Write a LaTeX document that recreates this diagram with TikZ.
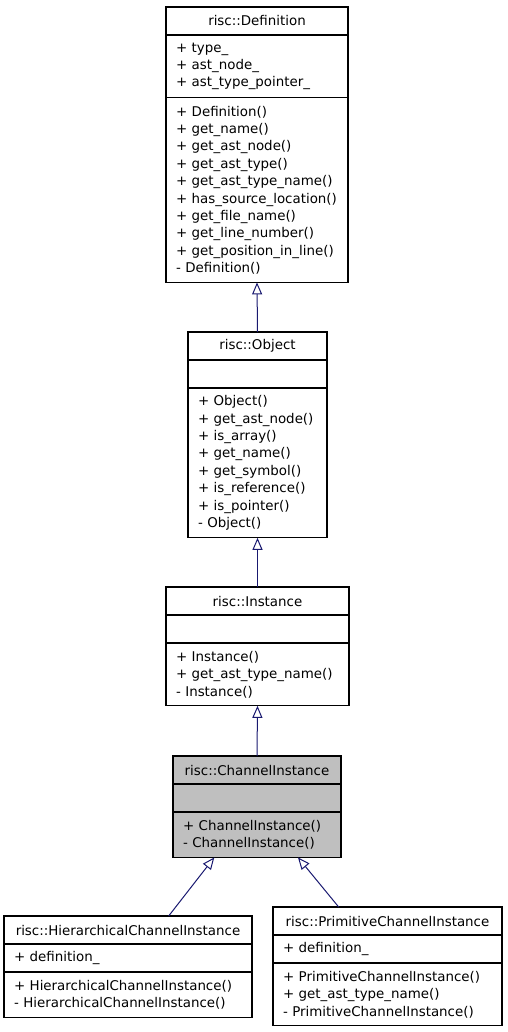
\documentclass[tikz,border=0pt]{standalone}
\usepackage{fontspec}
\setmainfont{DejaVu Sans}
\usetikzlibrary{positioning,arrows.meta}
\definecolor{edgeblue}{RGB}{25,25,112}
\definecolor{focusgray}{RGB}{191,191,191}
\tikzset{
    classpart/.style = {
        draw,
        shape=rectangle,
        anchor=north,
        inner xsep=10pt,
        inner ysep=0pt,
        outer sep=0pt,
        line width=1.1pt,
        fill=white,
        align=left,
        font=\fontsize{13.4}{17.4}\selectfont
    },
    classhead/.style = {
        classpart,
        align=center,
        minimum height=28pt
    },
    inherit/.style = {
        draw,
        color=edgeblue,
        line width=1pt,
        -{Triangle[open,length=12pt,width=10pt]}
    },
}

\begin{document}
\begin{tikzpicture}[x=1pt,y=-1pt]
    \useasboundingbox (0,0) rectangle (507,1032);

    % risc::Definition
    \node[classhead, text width=162pt] (defh) at (257,7) {risc::Definition};
    \node[classpart, text width=162pt, minimum height=62.8pt, below=0pt of defh] (defa) {+ type\_\\+ ast\_node\_\\+ ast\_type\_pointer\_};
    \node[classpart, text width=162pt, minimum height=184.6pt, below=0pt of defa] (defo) {+ Definition()\\+ get\_name()\\+ get\_ast\_node()\\+ get\_ast\_type()\\+ get\_ast\_type\_name()\\+~has\_source\_location()\\+ get\_file\_name()\\+ get\_line\_number()\\+ get\_position\_in\_line()\\- Definition()};

    % risc::Object
    \node[classhead, text width=119pt] (objh) at (257.5,332) {risc::Object};
    \node[classpart, text width=119pt, minimum height=28pt, below=0pt of objh] (obja) {};
    \node[classpart, text width=119pt, minimum height=149.8pt, below=0pt of obja] (objo) {+ Object()\\+ get\_ast\_node()\\+ is\_array()\\+ get\_name()\\+ get\_symbol()\\+ is\_reference()\\+ is\_pointer()\\- Object()};

    % risc::Instance
    \node[classhead, text width=163pt] (insth) at (257.5,587) {risc::Instance};
    \node[classpart, text width=163pt, minimum height=28pt, below=0pt of insth] (insta) {};
    \node[classpart, text width=163pt, minimum height=62.8pt, below=0pt of insta] (insto) {+ Instance()\\+ get\_ast\_type\_name()\\- Instance()};

    % risc::ChannelInstance
    \node[classhead, fill=focusgray, text width=148pt] (chanh) at (257,756) {risc::ChannelInstance};
    \node[classpart, fill=focusgray, text width=148pt, minimum height=28pt, below=0pt of chanh] (chana) {};
    \node[classpart, fill=focusgray, text width=148pt, minimum height=45.4pt, below=0pt of chana] (chano) {+ ChannelInstance()\\- ChannelInstance()};

    % risc::HierarchicalChannelInstance
    \node[classhead, text width=228pt] (hierh) at (128,916) {risc::HierarchicalChannelInstance};
    \node[classpart, text width=228pt, minimum height=28pt, below=0pt of hierh] (hiera) {+ definition\_};
    \node[classpart, text width=228pt, minimum height=45.4pt, below=0pt of hiera] (hiero) {+ HierarchicalChannelInstance()\\- HierarchicalChannelInstance()};

    % risc::PrimitiveChannelInstance
    \node[classhead, text width=209pt] (primh) at (387.5,907) {risc::PrimitiveChannelInstance};
    \node[classpart, text width=209pt, minimum height=28pt, below=0pt of primh] (prima) {+ definition\_};
    \node[classpart, text width=209pt, minimum height=62.8pt, below=0pt of prima] (primo) {+ PrimitiveChannelInstance()\\+ get\_ast\_type\_name()\\- PrimitiveChannelInstance()};

    \path[inherit] (objh.north) -- (defo.south);
    \path[inherit] (insth.north) -- (objo.south);
    \path[inherit] (chanh.north) -- (insto.south);
    \path[inherit] (hierh.19) -- (chano.208);
    \path[inherit] (primh.164) -- (chano.331);
\end{tikzpicture}
\end{document}
